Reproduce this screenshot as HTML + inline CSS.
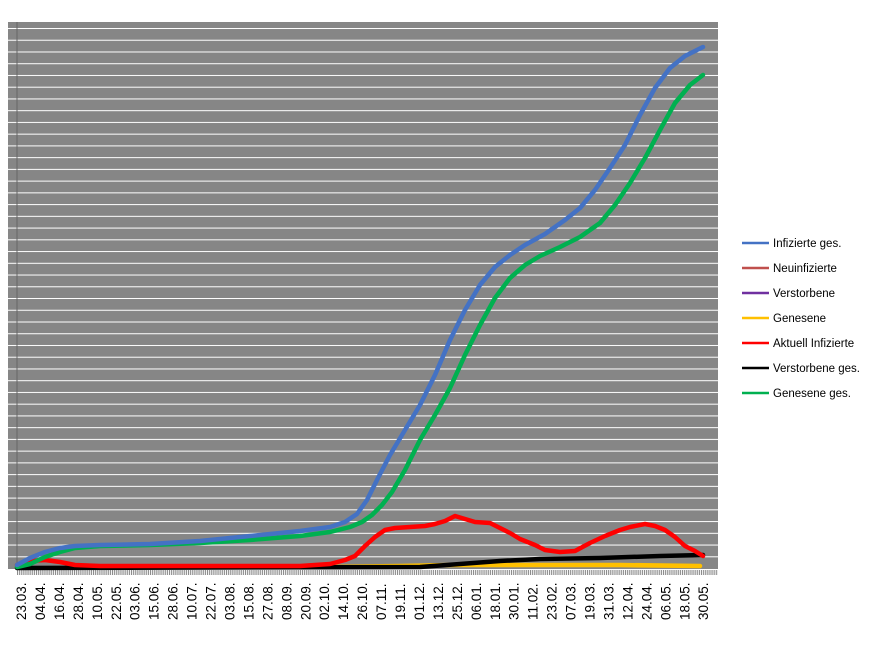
<!DOCTYPE html>
<html><head><meta charset="utf-8"><style>
body{margin:0;background:#fff;width:875px;height:644px;overflow:hidden;font-family:"Liberation Sans",sans-serif}
</style></head><body>
<svg width="875" height="644" xmlns="http://www.w3.org/2000/svg">
<defs>
<pattern id="gp" x="0" y="28" width="10" height="11.74" patternUnits="userSpaceOnUse">
<rect x="0" y="0" width="10" height="1" fill="#fff"/>
</pattern>
<pattern id="tp" x="17" y="0" width="1.9" height="10" patternUnits="userSpaceOnUse">
<rect x="0" y="0" width="1" height="10" fill="#888"/>
</pattern>
</defs>
<rect x="8" y="22" width="710" height="548" fill="#868686"/>
<rect x="8" y="28" width="710" height="540" fill="url(#gp)"/>
<line x1="17" y1="22" x2="17" y2="570" stroke="#666" stroke-width="1"/>
<line x1="8" y1="569.5" x2="718" y2="569.5" stroke="#fff" stroke-width="1"/>
<rect x="17" y="570" width="701" height="5" fill="url(#tp)"/>
<g fill="none" stroke-width="4.5" stroke-linejoin="round" stroke-linecap="round">
<polyline stroke="#ffc000" points="330,567 400,566 450,565 500,565 560,565 620,565 700,566"/>
<polyline stroke="#000" points="17,568 420,567 460,564 500,561 540,559 600,558 660,556 703,555"/>
<polyline stroke="#ff0000" points="17,565 30,561 45,560 60,562 75,565 100,566 300,566 330,564 345,560 355,556 365,546 375,537 385,530 395,528 410,527 425,526 435,524 445,521 455,516 465,519 475,522 490,523 500,528 510,533 520,539 535,545 545,550 560,552 575,551 590,543 605,536 620,530 630,527 645,524 655,526 665,530 675,537 685,546 695,551 703,556"/>
<polyline stroke="#00b050" points="17,567 30,564 45,557 60,552 75,548 100,546 150,545 200,543 250,540 300,536 330,532 350,527 362,522 372,515 382,505 392,492 405,470 420,440 435,415 450,388 465,355 480,325 495,298 510,278 525,265 540,256 560,247 580,237 600,223 615,205 630,183 645,158 660,130 675,103 690,85 703,75"/>
<polyline stroke="#4472c4" points="17,565 30,558 45,552 60,548 75,546 100,545 150,544 200,541 250,536 300,531 330,527 345,522 357,514 367,500 378,478 390,455 405,430 420,405 435,375 450,340 465,310 480,285 495,267 510,255 525,245 545,234 565,220 580,208 595,190 610,168 625,145 640,115 655,88 670,68 685,56 703,47"/>
</g>
<g font-size="13.5" fill="#000">
<text transform="translate(26,620) rotate(-90)">23.03.</text>
<text transform="translate(44.95,620) rotate(-90)">04.04.</text>
<text transform="translate(63.9,620) rotate(-90)">16.04.</text>
<text transform="translate(82.85,620) rotate(-90)">28.04.</text>
<text transform="translate(101.8,620) rotate(-90)">10.05.</text>
<text transform="translate(120.75,620) rotate(-90)">22.05.</text>
<text transform="translate(139.7,620) rotate(-90)">03.06.</text>
<text transform="translate(158.65,620) rotate(-90)">15.06.</text>
<text transform="translate(177.6,620) rotate(-90)">28.06.</text>
<text transform="translate(196.55,620) rotate(-90)">10.07.</text>
<text transform="translate(215.5,620) rotate(-90)">22.07.</text>
<text transform="translate(234.45,620) rotate(-90)">03.08.</text>
<text transform="translate(253.4,620) rotate(-90)">15.08.</text>
<text transform="translate(272.35,620) rotate(-90)">27.08.</text>
<text transform="translate(291.3,620) rotate(-90)">08.09.</text>
<text transform="translate(310.25,620) rotate(-90)">20.09.</text>
<text transform="translate(329.2,620) rotate(-90)">02.10.</text>
<text transform="translate(348.15,620) rotate(-90)">14.10.</text>
<text transform="translate(367.1,620) rotate(-90)">26.10.</text>
<text transform="translate(386.05,620) rotate(-90)">07.11.</text>
<text transform="translate(405,620) rotate(-90)">19.11.</text>
<text transform="translate(423.95,620) rotate(-90)">01.12.</text>
<text transform="translate(442.9,620) rotate(-90)">13.12.</text>
<text transform="translate(461.85,620) rotate(-90)">25.12.</text>
<text transform="translate(480.8,620) rotate(-90)">06.01.</text>
<text transform="translate(499.75,620) rotate(-90)">18.01.</text>
<text transform="translate(518.7,620) rotate(-90)">30.01.</text>
<text transform="translate(537.65,620) rotate(-90)">11.02.</text>
<text transform="translate(556.6,620) rotate(-90)">23.02.</text>
<text transform="translate(575.55,620) rotate(-90)">07.03.</text>
<text transform="translate(594.5,620) rotate(-90)">19.03.</text>
<text transform="translate(613.45,620) rotate(-90)">31.03.</text>
<text transform="translate(632.4,620) rotate(-90)">12.04.</text>
<text transform="translate(651.35,620) rotate(-90)">24.04.</text>
<text transform="translate(670.3,620) rotate(-90)">06.05.</text>
<text transform="translate(689.25,620) rotate(-90)">18.05.</text>
<text transform="translate(708.2,620) rotate(-90)">30.05.</text>
</g>
<g stroke-width="2.5">
<line x1="742" y1="243" x2="769" y2="243" stroke="#4472c4"/>
<line x1="742" y1="268" x2="769" y2="268" stroke="#c0504d"/>
<line x1="742" y1="293" x2="769" y2="293" stroke="#7030a0"/>
<line x1="742" y1="318" x2="769" y2="318" stroke="#ffc000"/>
<line x1="742" y1="343" x2="769" y2="343" stroke="#ff0000"/>
<line x1="742" y1="368" x2="769" y2="368" stroke="#000"/>
<line x1="742" y1="393" x2="769" y2="393" stroke="#00b050"/>
</g>
<g font-size="11.5" fill="#000">
<text x="773" y="247">Infizierte ges.</text>
<text x="773" y="272">Neuinfizierte</text>
<text x="773" y="297">Verstorbene</text>
<text x="773" y="322">Genesene</text>
<text x="773" y="347">Aktuell Infizierte</text>
<text x="773" y="372">Verstorbene ges.</text>
<text x="773" y="397">Genesene ges.</text>
</g>
</svg>
</body></html>
